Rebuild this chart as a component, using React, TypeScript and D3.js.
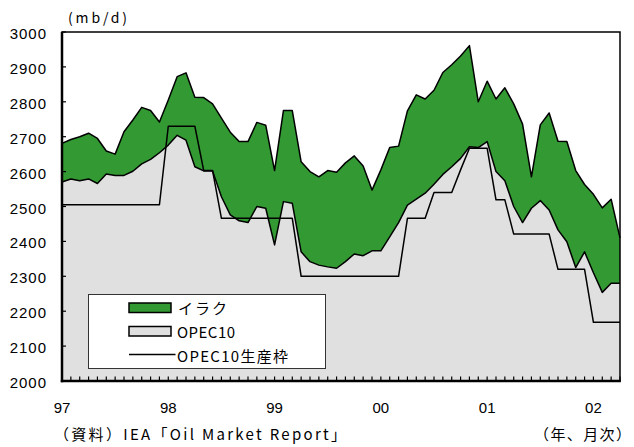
import React, { useEffect, useRef } from "react";
import * as d3 from "d3";

// monthly, Jan 1997 - Apr 2002 (mb/d)
const opec10 = [
  2570, 2579, 2574, 2579, 2566, 2593, 2589, 2589, 2601, 2622, 2635, 2654,
  2676, 2704, 2690, 2614, 2602, 2602, 2528, 2476, 2459, 2454, 2500, 2495,
  2390, 2514, 2509, 2370, 2342, 2332, 2327, 2323, 2342, 2364, 2359, 2373,
  2373, 2413, 2454, 2504, 2521, 2538, 2564, 2592, 2614, 2638, 2671, 2669,
  2686, 2600, 2574, 2500, 2454, 2495, 2517, 2490, 2433, 2399, 2325, 2370,
  2310, 2254, 2280, 2280,
];

const iraq = [
  111, 113, 126, 131, 129, 66, 61, 125, 147, 162, 140, 88,
  129, 168, 193, 199, 210, 192, 225, 237, 227, 232, 241, 238,
  213, 261, 266, 258, 258, 253, 276, 275, 283, 281, 257, 174,
  232, 256, 219, 270, 299, 270, 269, 292, 292, 293, 290, 131,
  173, 208, 266, 294, 282, 90, 217, 278, 254, 287, 278, 193,
  225, 242, 241, 130,
];

const quota = [
  2505, 2505, 2505, 2505, 2505, 2505, 2505, 2505, 2505, 2505, 2505, 2505,
  2730, 2730, 2730, 2730, 2603, 2603, 2466, 2466, 2466, 2466, 2466, 2466,
  2466, 2466, 2466, 2300, 2300, 2300, 2300, 2300, 2300, 2300, 2300, 2300,
  2300, 2300, 2300, 2466, 2466, 2466, 2540, 2540, 2540, 2605, 2667, 2667,
  2667, 2519, 2519, 2421, 2421, 2421, 2421, 2421, 2320, 2320, 2320, 2320,
  2168, 2168, 2168, 2168,
];

const yearLabels = ["97", "98", "99", "00", "01", "02"];

const legendItems = ["イラク", "OPEC10", "OPEC10生産枠"];

const GREEN = "#339933";
const GREY = "#e0e0e0";
const NUM_FONT = "'Liberation Sans', Arial, sans-serif";
const JP_FONT = "'Noto Sans CJK JP', sans-serif";

export default function App() {
  const svgRef = useRef<SVGSVGElement | null>(null);

  useEffect(() => {
    const svg = d3.select(svgRef.current);
    svg.selectAll("*").remove();

    const width = 634;
    const height = 447;
    const left = 62, right = 620, top = 32, bottom = 381;

    const rows = opec10.map((v, i) => ({ i, opec10: v, iraq: iraq[i] }));
    const stacked = d3.stack<any>().keys(["opec10", "iraq"])(rows);

    const x = d3.scaleLinear().domain([0, opec10.length - 1]).range([left, right]);
    const y = d3.scaleLinear().domain([2000, 3000]).range([bottom, top]);

    svg.attr("width", width).attr("height", height);

    const area = d3
      .area<any>()
      .x((d) => x(d.data.i))
      .y0((d) => y(d[0] === 0 ? 2000 : d[0]))
      .y1((d) => y(d[1]));

    // grey OPEC10 body, then green Iraq band on top
    svg.append("path")
      .datum(stacked[0])
      .attr("fill", GREY)
      .attr("d", area);

    svg.append("path")
      .datum(stacked[1])
      .attr("fill", GREEN)
      .attr("d", area);

    const line = d3.line<number>()
      .x((_, i) => x(i))
      .y((d) => y(d));

    const totals = opec10.map((v, i) => v + iraq[i]);

    [totals, opec10, quota].forEach((series) => {
      svg.append("path")
        .datum(series)
        .attr("fill", "none")
        .attr("stroke", "#000")
        .attr("stroke-width", 1.5)
        .attr("stroke-linejoin", "round")
        .attr("d", line);
    });

    // frame
    svg.append("rect")
      .attr("x", left).attr("y", top)
      .attr("width", right - left).attr("height", bottom - top)
      .attr("fill", "none").attr("stroke", "#000").attr("stroke-width", 1.5);
    svg.append("line")
      .attr("x1", left).attr("x2", left).attr("y1", top).attr("y2", bottom + 1.2)
      .attr("stroke", "#000").attr("stroke-width", 2.5);
    svg.append("line")
      .attr("x1", left - 1.2).attr("x2", right + 0.75).attr("y1", bottom).attr("y2", bottom)
      .attr("stroke", "#000").attr("stroke-width", 2.5);

    // y ticks + labels
    const yTicks = y.ticks(10);
    svg.append("g")
      .selectAll("line")
      .data(yTicks)
      .join("line")
      .attr("x1", left).attr("x2", left + 4)
      .attr("y1", (d) => y(d)).attr("y2", (d) => y(d))
      .attr("stroke", "#000").attr("stroke-width", 1.2);
    svg.append("g")
      .selectAll("text")
      .data(yTicks)
      .join("text")
      .attr("x", 47)
      .attr("y", (d) => y(d) + 1.5)
      .attr("text-anchor", "end")
      .attr("dominant-baseline", "central")
      .style("font-family", NUM_FONT)
      .style("font-size", "15px")
      .style("letter-spacing", "1px")
      .text((d) => d);

    // monthly x ticks
    svg.append("g")
      .selectAll("line")
      .data(opec10.map((_, i) => i).slice(1))
      .join("line")
      .attr("x1", (d) => x(d)).attr("x2", (d) => x(d))
      .attr("y1", bottom).attr("y2", bottom - 4.5)
      .attr("stroke", "#000").attr("stroke-width", 1.2);

    svg.append("g")
      .selectAll("text")
      .data(yearLabels)
      .join("text")
      .attr("x", (_, i) => x(i * 12))
      .attr("y", 407)
      .attr("text-anchor", "middle")
      .attr("dominant-baseline", "central")
      .style("font-family", NUM_FONT)
      .style("font-size", "15px")
      .text((d) => d);

    // unit + notes
    const note = (txt: string, tx: number, ty: number, len: number, size = 15) =>
      svg.append("text")
        .attr("x", tx).attr("y", ty)
        .attr("dominant-baseline", "central")
        .attr("textLength", len)
        .attr("lengthAdjust", "spacing")
        .style("font-family", JP_FONT)
        .style("font-size", `${size}px`)
        .text(txt);

    note("(mb/d)", 68, 17, 59, 14);
    note("（資料）IEA「Oil Market Report」", 54, 433, 292);
    note("（年、月次）", 534, 433, 97);

    // legend
    const lg = svg.append("g");
    lg.append("rect")
      .attr("x", 88.5).attr("y", 294.5).attr("width", 237).attr("height", 74)
      .attr("fill", "#fff").attr("stroke", "#333").attr("stroke-width", 1);
    lg.append("rect")
      .attr("x", 129).attr("y", 303).attr("width", 42).attr("height", 9.5)
      .attr("fill", GREEN).attr("stroke", "#000").attr("stroke-width", 1.5);
    lg.append("rect")
      .attr("x", 129).attr("y", 326.5).attr("width", 42).attr("height", 9.5)
      .attr("fill", GREY).attr("stroke", "#000").attr("stroke-width", 1.5);
    lg.append("line")
      .attr("x1", 129).attr("x2", 175.5).attr("y1", 354.5).attr("y2", 354.5)
      .attr("stroke", "#000").attr("stroke-width", 1.5);

    const legendX = [178, 177, 177];
    const legendY = [307.5, 331, 355];
    const legendLen = [49, 58, 111];
    lg.selectAll("text")
      .data(legendItems)
      .join("text")
      .attr("x", (_, i) => legendX[i])
      .attr("y", (_, i) => legendY[i])
      .attr("dominant-baseline", "central")
      .attr("textLength", (_, i) => legendLen[i])
      .attr("lengthAdjust", "spacing")
      .style("font-family", JP_FONT)
      .style("font-size", "15px")
      .text((d) => d);
  }, []);

  return (
    <svg
      ref={svgRef}
      style={{ position: "absolute", left: 0, top: 0, background: "#fff" }}
    />
  );
}
